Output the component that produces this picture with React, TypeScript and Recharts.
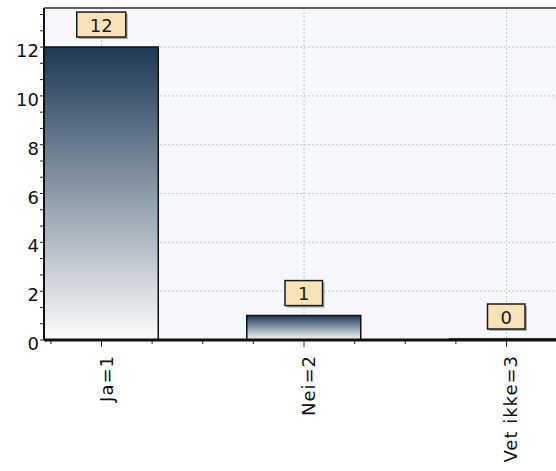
import { BarChart, Bar, XAxis, YAxis, CartesianGrid, ReferenceLine, LabelList } from "recharts";

const categories = ["Ja=1", "Nei=2", "Vet ikke=3"];
const positions = [1, 2, 3];
const counts = [12, 1, 0];

const xTicks = [0.75, 1, 1.25, 1.5, 1.75, 2, 2.25, 2.5, 2.75, 3, 3.25];
const yTicks = [0, 0.667, 1.333, 2, 2.667, 3.333, 4, 4.667, 5.333, 6, 6.667, 7.333, 8, 8.667, 9.333, 10, 10.667, 11.333, 12, 12.667, 13.333];
const yLabelled = [0, 2, 4, 6, 8, 10, 12];

const data = positions.map((x, i) => ({ x, name: categories[i], count: counts[i] }));

const FONT = "'DejaVu Sans', Verdana, sans-serif";

function XTick(props: any) {
    const { x, y, payload } = props;
    const v = payload.value;
    const idx = positions.indexOf(v);
    const major = idx >= 0;
    return (
        <g>
            <line x1={x} y1={y} x2={x} y2={y + (major ? 7 : 4)} stroke="#222" strokeWidth={1} />
            {major && (
                <text
                    x={0}
                    y={0}
                    transform={`translate(${x + 11},${y + 15}) rotate(-90)`}
                    textAnchor="end"
                    fontSize={18}
                    letterSpacing={1}
                    fontFamily={FONT}
                    fill="#111"
                >
                    {categories[idx]}
                </text>
            )}
        </g>
    );
}

function YTick(props: any) {
    const { x, y, payload } = props;
    const v = payload.value;
    const label = yLabelled.find((t) => Math.abs(t - v) < 0.01);
    return (
        <g>
            <line x1={x - 4} y1={y} x2={x} y2={y} stroke="#222" strokeWidth={1} />
            {label !== undefined && (
                <text x={x - 5} y={y + 10} textAnchor="end" fontSize={18} fontFamily={FONT} fill="#111">
                    {label}
                </text>
            )}
        </g>
    );
}

function ValueBox(props: any) {
    const { x, y, width, value } = props;
    const cx = x + width / 2;
    const w = String(value).length * 11.5 + 26;
    const h = 25;
    const top = y - 10 - h;
    return (
        <g>
            <rect x={cx - w / 2 + 2} y={top + 2} width={w} height={h} fill="#6f6f6f" opacity={0.55} />
            <rect x={cx - w / 2} y={top} width={w} height={h} fill="#f9e3b6" stroke="#1a1a1a" strokeWidth={1.5} />
            <text x={cx} y={top + h / 2 + 7} textAnchor="middle" fontSize={18} fontFamily={FONT} fill="#1a1a1a">
                {value}
            </text>
        </g>
    );
}

export default function App() {
    return (
        <div style={{ position: "absolute", left: 0, top: 0, width: 556, height: 471, overflow: "hidden", background: "#fff" }}>
            <BarChart width={570} height={471} data={data} margin={{ top: 8, right: 6, left: 0, bottom: 0 }}>
                <defs>
                    <linearGradient id="barGrad" x1="0" y1="0" x2="0" y2="1">
                        <stop offset="0%" stopColor="#1d3954" />
                        <stop offset="100%" stopColor="#fdfdfd" />
                    </linearGradient>
                </defs>
                <CartesianGrid
                    fill="#f5f7fc"
                    stroke="#c4c8d1"
                    strokeDasharray="2 2"
                    horizontalValues={yLabelled.slice(1)}
                    verticalValues={positions}
                />
                <XAxis
                    type="number"
                    dataKey="x"
                    domain={[0.716, 3.284]}
                    allowDataOverflow
                    ticks={xTicks}
                    interval={0}
                    height={131}
                    tickSize={0}
                    tickMargin={0}
                    tick={<XTick />}
                    axisLine={{ stroke: "#111", strokeWidth: 3 }}
                />
                <YAxis
                    type="number"
                    domain={[0, 13.6]}
                    allowDataOverflow
                    ticks={yTicks}
                    interval={0}
                    width={44}
                    tickSize={0}
                    tickMargin={0}
                    tick={<YTick />}
                    axisLine={{ stroke: "#111", strokeWidth: 2 }}
                />
                <ReferenceLine y={13.6} stroke="#333" strokeWidth={1.5} />
                <Bar
                    dataKey="count"
                    barSize={114}
                    minPointSize={1}
                    fill="url(#barGrad)"
                    stroke="#111"
                    strokeWidth={1.5}
                    isAnimationActive={false}
                >
                    <LabelList dataKey="count" content={<ValueBox />} />
                </Bar>
            </BarChart>
        </div>
    );
}
